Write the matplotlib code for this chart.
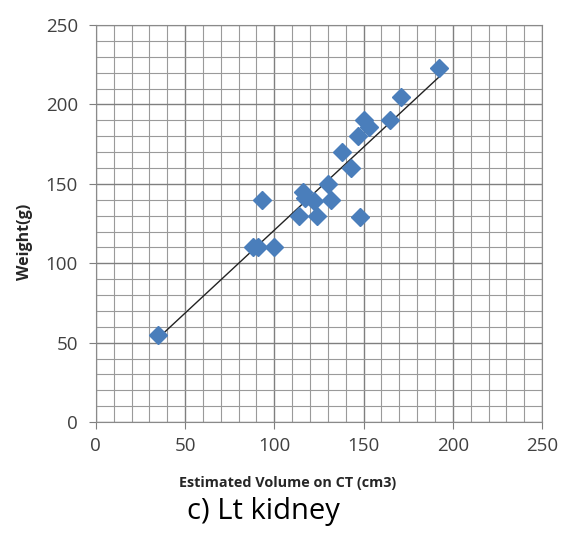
import numpy as np
import matplotlib
matplotlib.use("Agg")
import matplotlib.pyplot as plt
from matplotlib.ticker import MultipleLocator

# Estimated volume on CT (cm3) vs weight (g), left kidney
volume = [35, 88, 91, 100, 93, 114, 116, 117, 122, 124, 130, 132,
          138, 143, 148, 147, 150, 153, 165, 171, 192]
weight = [55, 110, 110, 110, 140, 130, 145, 141, 139, 130, 150, 140,
          170, 160, 129, 180, 190, 186, 190, 205, 223]

xticks = [0, 50, 100, 150, 200, 250]
yticks = [0, 50, 100, 150, 200, 250]

plt.rcParams['font.family'] = ['Open Sans', 'DejaVu Sans']

fig = plt.figure(figsize=(5.67, 5.33), dpi=100)
ax = fig.add_axes([0.169, 0.208, 0.787, 0.745])

ax.set_xlim(0, 250)
ax.set_ylim(0, 250)
ax.set_xticks(xticks)
ax.set_yticks(yticks)
ax.xaxis.set_minor_locator(MultipleLocator(10))
ax.yaxis.set_minor_locator(MultipleLocator(10))
ax.grid(which='major', color='#7f7f7f', linewidth=1.0)
ax.grid(which='minor', color='#9a9a9a', linewidth=0.8)
ax.set_axisbelow(True)
ax.tick_params(which='major', direction='out', length=5, color='#7f7f7f',
               labelsize=13.5, labelcolor='#404040')
ax.tick_params(axis='x', pad=6)
ax.tick_params(axis='y', pad=8)
ax.tick_params(which='minor', length=0)
for s in ax.spines.values():
    s.set_color('#8a8a8a')

# linear trend line over the data range
k, b = np.polyfit(volume, weight, 1)
xs = np.array([min(volume), max(volume)])
ax.plot(xs, k * xs + b, color='#222222', linewidth=1.0, zorder=2)

ax.plot(volume, weight, linestyle='none', marker='D', markersize=9.5,
        color='#4a7ebb', markeredgecolor='#4a7ebb', zorder=3)

fig.text(288 / 567, 1 - 483 / 533, 'Estimated Volume on CT (cm3)',
         ha='center', va='center', fontsize=10.4, fontweight='bold', color='#262626')
fig.text(25 / 567, 1 - 242 / 533, 'Weight(g)', rotation=90,
         ha='center', va='center', fontsize=11.5, fontweight='bold', color='#262626')
fig.text(263 / 567, 1 - 512 / 533, 'c) Lt kidney',
         ha='center', va='center', fontsize=21, color='black')

fig.savefig('out.png', dpi=100)
